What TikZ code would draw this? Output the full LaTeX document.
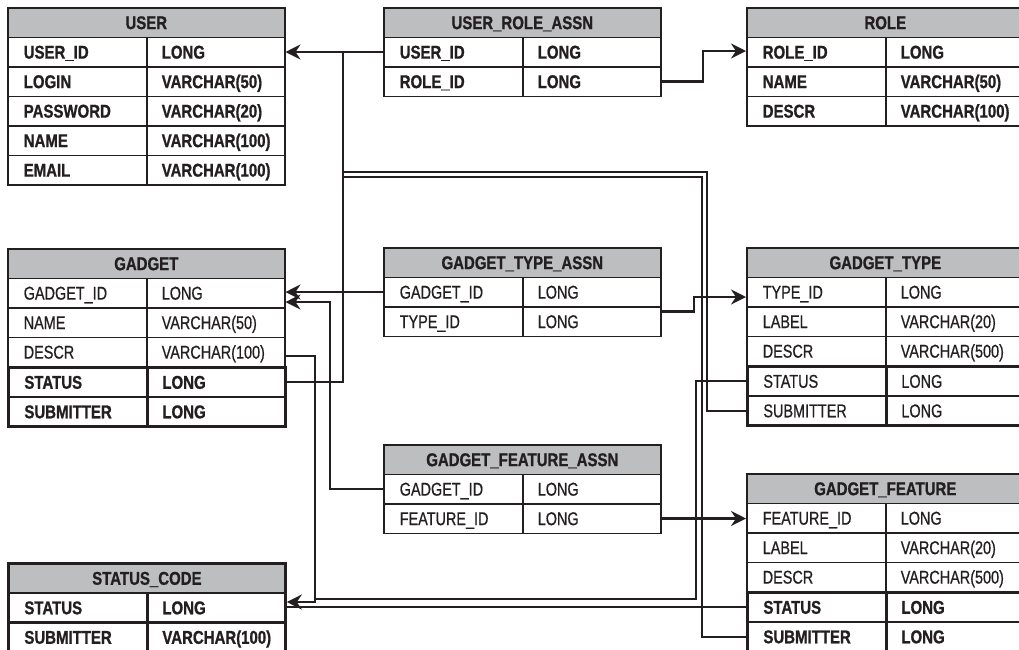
\documentclass[tikz,border=0pt]{standalone}
\usepackage{fontspec}
\usetikzlibrary{arrows.meta,calc}
\newfontfamily\regf{Liberation Sans}[FakeStretch=0.78,FakeBold=0.6]
\newfontfamily\boldf{Liberation Sans}[FakeStretch=0.81,FakeBold=0.9]
\definecolor{ink}{HTML}{231F20}
\definecolor{hdrgray}{HTML}{BDBEC0}
\tikzset{
  hdr/.style={draw=ink, fill=hdrgray, line width=1.6pt, anchor=north west,
    minimum width=277pt, minimum height=29.5pt, inner sep=0pt,
    text height=13.2pt, text depth=0pt, text=ink,
    font=\boldf\bfseries\fontsize{18.5}{21}\selectfont},
  hdrthick/.style={line width=2.8pt},
  keycell/.style={draw=ink, line width=1.5pt, anchor=north west, text=ink,
    minimum height=29.5pt, text width=107pt, inner xsep=16pt, inner ysep=0pt,
    align=left, text height=13.2pt, text depth=0pt},
  typecell/.style={draw=ink, line width=1.5pt, anchor=north west, text=ink,
    minimum height=29.5pt, text width=108pt, inner xsep=15pt, inner ysep=0pt,
    align=left, text height=13.2pt, text depth=0pt},
  rowR/.style={font=\regf\fontsize{18.5}{21}\selectfont},
  rowB/.style={font=\boldf\bfseries\fontsize{18.5}{21}\selectfont},
  rowTR/.style={rowR, line width=2.8pt},
  rowTB/.style={rowB, line width=2.8pt},
  conn/.style={draw=ink, line width=2.2pt},
  arr/.style={-{Stealth[length=15pt,width=15pt,inset=5pt]}}
}
\newcommand\dbtab[6][]{%
  \node[hdr,#1] (#2-h) at (#3,#4) {#5};
  \foreach \k/\v/\s [count=\i] in {#6}{
    \node[keycell,\s] (#2-k\i) at (#3,#4+29.5*\i) {\k};
    \node[typecell,\s] (#2-t\i) at (#3+139,#4+29.5*\i) {\v};
  }
}
\begin{document}
\begin{tikzpicture}[x=1pt,y=-1pt]
\useasboundingbox (0,0) rectangle (1019,649);
\clip (0,0) rectangle (1019,649);
\fill[white] (0,0) rectangle (1019,649);

\dbtab{user}{7}{7}{USER}{USER\_ID/LONG/rowB, LOGIN/VARCHAR(50)/rowB, PASSWORD/VARCHAR(20)/rowB, NAME/VARCHAR(100)/rowB, EMAIL/VARCHAR(100)/rowB}
\dbtab{ura}{383}{7}{USER\_ROLE\_ASSN}{USER\_ID/LONG/rowB, ROLE\_ID/LONG/rowB}
\dbtab{role}{746}{7}{ROLE}{ROLE\_ID/LONG/rowB, NAME/VARCHAR(50)/rowB, DESCR/VARCHAR(100)/rowB}
\dbtab{gad}{7}{248}{GADGET}{GADGET\_ID/LONG/rowR, NAME/VARCHAR(50)/rowR, DESCR/VARCHAR(100)/rowR, STATUS/LONG/rowTB, SUBMITTER/LONG/rowTB}
\dbtab{gta}{383}{247}{GADGET\_TYPE\_ASSN}{GADGET\_ID/LONG/rowR, TYPE\_ID/LONG/rowR}
\dbtab{gt}{746}{247}{GADGET\_TYPE}{TYPE\_ID/LONG/rowR, LABEL/VARCHAR(20)/rowR, DESCR/VARCHAR(500)/rowR, STATUS/LONG/rowTR, SUBMITTER/LONG/rowTR}
\dbtab{gfa}{383}{444}{GADGET\_FEATURE\_ASSN}{GADGET\_ID/LONG/rowR, FEATURE\_ID/LONG/rowR}
\dbtab{gf}{746}{473}{GADGET\_FEATURE}{FEATURE\_ID/LONG/rowR, LABEL/VARCHAR(20)/rowR, DESCR/VARCHAR(500)/rowR, STATUS/LONG/rowTB, SUBMITTER/LONG/rowTB}
\dbtab[hdrthick]{sc}{7}{562}{STATUS\_CODE}{STATUS/LONG/rowTB, SUBMITTER/VARCHAR(100)/rowTB}

% junction / bend coordinates
\coordinate (jU) at (343,51);
\coordinate (jA) at (343,172);
\coordinate (bA) at (707,172);
\coordinate (jB) at (343,177);
\coordinate (bB) at (702,177);
\coordinate (bC) at (330,302);
\coordinate (bD) at (315,602);
\coordinate (bE) at (696,599);
\coordinate (jE) at (315,599);
\coordinate (bF) at (694,297);
\coordinate (bG) at (703,51);

% connectors
\draw[conn,arr] (ura-k1.west) -- (user-t1.east);
\draw[conn] (gad-t4.east) -| (jU);
\draw[conn] (gt-k5.west) -| (bA) -- (jA);
\draw[conn] (gf-k5.west) -| (bB) -- (jB);
\draw[conn,arr] (gta-k1.west) -- (gta-k1.west -| gad-t1.east);
\draw[conn,arr] (gfa-k1.west) -| (bC) -- (bC -| gad-t1.east);
\draw[conn] (gt-k4.west) -| (bE) -- (jE);
\draw[conn] (gf-k4.west) -- (gf-k4.west -| sc-t1.east);
\draw[conn,arr] ([yshift=-4pt]gad-t3.east) -| (bD) -- (bD -| sc-t1.east);
\draw[conn,arr] ([yshift=10pt]gta-t2.east) -| (bF) -- (bF -| gt-k1.west);
\draw[conn,arr] (ura-t2.east) -| (bG) -- (bG -| role-k1.west);
\draw[conn,arr] (gfa-t2.east) -- (gfa-t2.east -| gf-k1.west);
\end{tikzpicture}
\end{document}
